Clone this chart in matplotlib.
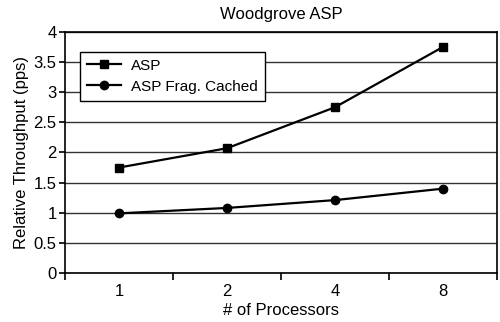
import matplotlib
matplotlib.use("Agg")
import matplotlib.pyplot as plt

categories = ["1", "2", "4", "8"]
asp = [1.75, 2.07, 2.75, 3.75]
asp_frag = [0.99, 1.08, 1.21, 1.40]
yticks = [0, 0.5, 1, 1.5, 2, 2.5, 3, 3.5, 4]

plt.rcParams['font.family'] = ['Liberation Sans', 'DejaVu Sans']
fig = plt.figure(figsize=(5, 3.22), dpi=100)
ax = fig.add_axes([0.13, 0.152, 0.864, 0.749])

x = list(range(len(categories)))
ax.plot(x, asp, color='black', lw=1.6, marker='s', ms=6, label='ASP')
ax.plot(x, asp_frag, color='black', lw=1.6, marker='o', ms=6, label='ASP Frag. Cached')

ax.set_xlim(-0.5, len(categories) - 0.5)
ax.set_ylim(0, 4)
ax.set_yticks(yticks)
ax.set_yticklabels([f"{t:g}" for t in yticks], fontsize=12)
ax.set_xticks(x)
ax.set_xticklabels(categories, fontsize=12)
ax.tick_params(axis='x', length=0, pad=8)
ax.set_xticks([i - 0.5 for i in range(len(categories) + 1)], minor=True)
ax.tick_params(axis='x', which='minor', length=5, width=1.2, direction='out')
ax.tick_params(axis='y', length=4, width=1.2, direction='out', pad=2)
ax.grid(axis='y', color='#333333', lw=1.0)
ax.set_axisbelow(True)
for s in ax.spines.values():
    s.set_linewidth(1.2)
ax.set_xlabel('# of Processors', fontsize=12, labelpad=3)
ax.set_ylabel('Relative Throughput (pps)', fontsize=12, labelpad=3)
ax.set_title('Woodgrove ASP', fontsize=12, pad=9)

leg = ax.legend(loc='upper left', bbox_to_anchor=(0.035, 0.917), fontsize=11,
                frameon=True, fancybox=False, edgecolor='black', framealpha=1,
                handlelength=2.2, handletextpad=0.7, borderpad=0.45,
                labelspacing=0.45, borderaxespad=0)
leg.get_frame().set_linewidth(1.0)

fig.savefig('out.png', dpi=100)
